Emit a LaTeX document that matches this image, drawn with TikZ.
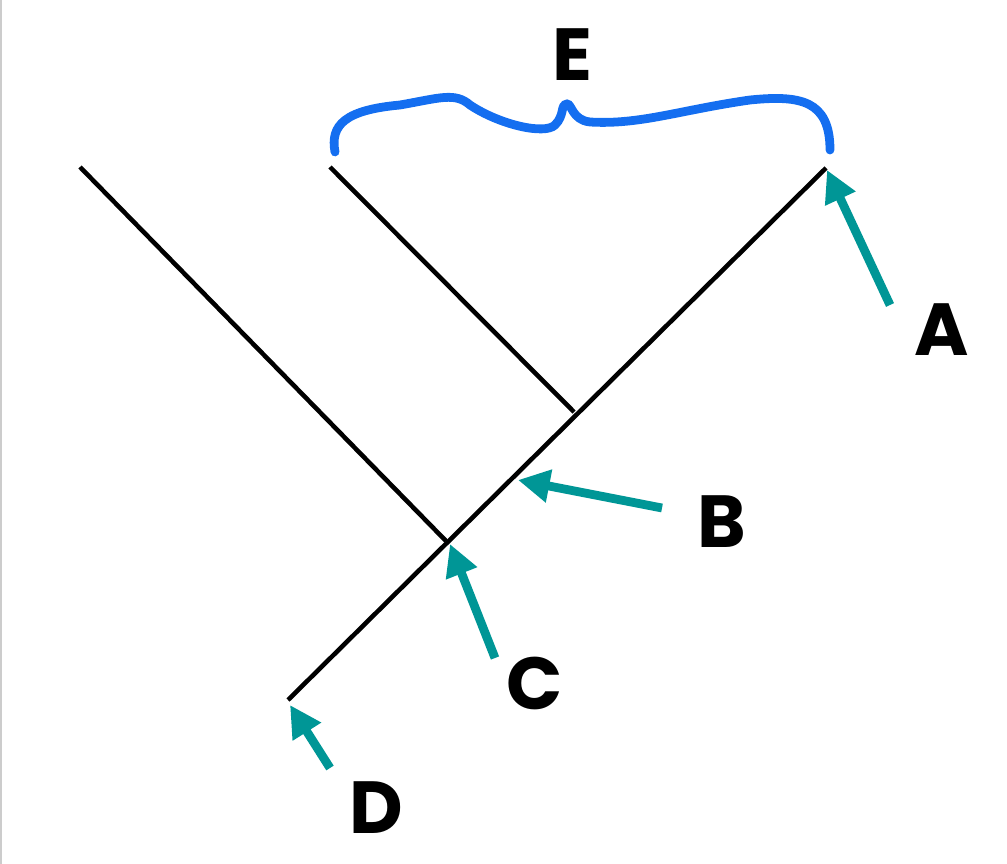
\documentclass[tikz,border=0pt]{standalone}
\usepackage{fontspec}
\setmainfont{Poppins}
\usetikzlibrary{arrows.meta}
\definecolor{teal2}{RGB}{0,150,150}
\definecolor{blue2}{RGB}{20,110,240}
\begin{document}
\begin{tikzpicture}[x=0.02cm,y=-0.02cm,
  branch/.style={line width=2.6pt,black},
  pointer/.style={line width=5pt,teal2,-{Triangle[length=18pt,width=18pt]}},
  lab/.style={font=\fontsize{42}{42}\selectfont\bfseries}]
\useasboundingbox (0,0) rectangle (1007,864);
\draw[gray!40,line width=1pt] (1,0) -- (1,864);
\coordinate (D) at (288,700);
\coordinate (A) at (826,168);
\coordinate (C) at (446,541);
\coordinate (J) at (574,412);
\coordinate (L1) at (80,167);
\coordinate (L2) at (330,167);
\draw[branch] (D) -- (A);
\draw[branch] (C) -- (L1);
\draw[branch] (J) -- (L2);
\node[lab] (lA) at (942,330) {A};
\node[lab] (lB) at (722,522) {B};
\node[lab] (lC) at (535,683) {C};
\node[lab] (lD) at (376,808) {D};
\node[lab] (lE) at (572,55) {E};
\coordinate (aA) at (890,305); \coordinate (tA) at (827,170);
\coordinate (aB) at (662,508); \coordinate (tB) at (518,480);
\coordinate (aC) at (495,658); \coordinate (tC) at (450,544);
\coordinate (aD) at (330,768); \coordinate (tD) at (290,705);
\draw[pointer] (aA) -- (tA);
\draw[pointer] (aB) -- (tB);
\draw[pointer] (aC) -- (tC);
\draw[pointer] (aD) -- (tD);
\draw[blue2,line width=5pt,line cap=round]
  (335,152) .. controls (330,125) and (345,110) .. (400,105)
  .. controls (440,98) and (455,92) .. (470,105)
  .. controls (500,125) and (545,135) .. (555,125)
  .. controls (565,115) and (560,105) .. (567,104)
  .. controls (572,104) and (572,120) .. (590,122)
  .. controls (640,125) and (680,110) .. (750,100)
  .. controls (800,95) and (830,100) .. (830,150);
\end{tikzpicture}
\end{document}
